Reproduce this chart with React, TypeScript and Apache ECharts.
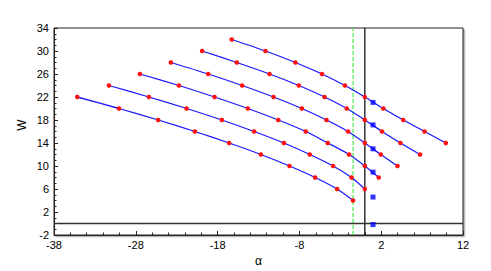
import React, { useEffect, useRef } from "react";
import * as echarts from "echarts";

const wL1 = [22, 20, 18, 16, 14, 12, 10, 8, 6, 4];
const aL1 = [-35.16, -30.06, -25.26, -20.78, -16.59, -12.71, -9.21, -6.08, -3.39, -1.44];
const wL2 = [24, 22, 20, 18, 16, 14, 12, 10, 8, 6];
const aL2 = [-31.28, -26.4, -21.79, -17.48, -13.53, -9.9, -6.73, -3.88, -1.63, 0.0];
const wL3 = [26, 24, 22, 20, 18, 16, 14, 12, 10, 8];
const aL3 = [-27.5, -22.73, -18.37, -14.3, -10.58, -7.22, -4.53, -1.93, 0.0, 1.7];
const wL4 = [28, 26, 24, 22, 20, 18, 16, 14, 12, 10];
const aL4 = [-23.71, -19.15, -15.0, -11.16, -7.7, -4.69, -2.05, 0.0, 1.95, 3.99];
const wL5 = [30, 28, 26, 24, 22, 20, 18, 16, 14, 12];
const aL5 = [-19.89, -15.65, -11.65, -8.07, -4.93, -2.21, 0.0, 2.1, 4.35, 6.75];
const wL6 = [32, 30, 28, 26, 24, 22, 20, 18, 16, 14];
const aL6 = [-16.27, -12.15, -8.49, -5.24, -2.43, 0.0, 2.26, 4.7, 7.3, 9.9];

const aBlue = [1, 1, 1, 1, 1, 1];
const wBlue = [21.06, 17.15, 12.99, 8.93, 4.6, -0.18];

const alphaZero = 0;
const alphaGreen = -1.44;
const wZero = 0;

const xMin = -38;
const xMax = 12;
const yMin = -2;
const yMax = 34;

const curves = [
  [aL1, wL1],
  [aL2, wL2],
  [aL3, wL3],
  [aL4, wL4],
  [aL5, wL5],
  [aL6, wL6],
];

const FONT = "Liberation Sans";

export default function App() {
  const ref = useRef<HTMLDivElement>(null);
  useEffect(() => {
    if (!ref.current) return;
    const chart = echarts.init(ref.current, null, { renderer: "svg" });
    const lineSeries = curves.map(([a, w], i) => ({
      type: "line",
      name: "c" + i,
      data: a.map((v, j) => [v, w[j]]),
      smooth: 0.25,
      symbol: "circle",
      symbolSize: 4.6,
      showSymbol: true,
      lineStyle: { color: "#1a1aff", width: 1.3 },
      itemStyle: { color: "#ff1010", borderWidth: 0 },
      z: 3,
    }));
    chart.setOption({
      animation: false,
      backgroundColor: "#ffffff",
      grid: {
        left: 54,
        top: 28,
        width: 409,
        height: 207,
        containLabel: false,
        outerBoundsMode: "none",
        show: true,
        borderColor: "#2a2222",
        borderWidth: 1,
        backgroundColor: "#ffffff",
        shadowColor: "rgba(0,0,0,0.35)",
        shadowOffsetX: 1.5,
        shadowOffsetY: 1.5,
        shadowBlur: 0,
      },
      graphic: [
        {
          type: "text",
          x: 22,
          y: 125,
          rotation: Math.PI / 2,
          style: {
            text: "W",
            fontFamily: FONT,
            fontSize: 12,
            fill: "#000",
            textAlign: "center",
            textVerticalAlign: "middle",
          },
        },
      ],
      xAxis: {
        type: "value",
        min: xMin,
        max: xMax,
        interval: 10,
        name: "α",
        nameLocation: "middle",
        nameGap: 17,
        nameTextStyle: { fontFamily: FONT, fontSize: 12, color: "#000" },
        axisLine: { show: true, onZero: false, lineStyle: { color: "#2a2222", width: 1 } },
        axisTick: { show: true, inside: true, length: 4, lineStyle: { color: "#2a2222" } },
        minorTick: { show: true, splitNumber: 5, length: 2.5, lineStyle: { color: "#2a2222" } },
        splitLine: { show: false },
        axisLabel: { fontFamily: FONT, fontSize: 11, color: "#000", margin: 4, showMinLabel: true, showMaxLabel: true },
      },
      yAxis: {
        type: "value",
        min: yMin,
        max: yMax,
        interval: 4,
        axisLine: { show: true, onZero: false, lineStyle: { color: "#2a2222", width: 1 } },
        axisTick: { show: true, inside: true, length: 4, lineStyle: { color: "#2a2222" } },
        minorTick: { show: true, splitNumber: 4, length: 2.5, lineStyle: { color: "#2a2222" } },
        splitLine: { show: false },
        axisLabel: { fontFamily: FONT, fontSize: 11, color: "#000", margin: 5, showMinLabel: true, showMaxLabel: true },
      },
      series: [
        {
          type: "line",
          data: [[alphaGreen, yMin], [alphaGreen, yMax]],
          symbol: "none",
          lineStyle: { color: "#44ee44", width: 1.2, type: [4, 2] },
          z: 2,
        },
        {
          type: "line",
          data: [[alphaZero, yMin], [alphaZero, yMax]],
          symbol: "none",
          lineStyle: { color: "#000000", width: 1.2 },
          z: 2,
        },
        {
          type: "line",
          data: [[xMin, wZero], [xMax, wZero]],
          symbol: "none",
          lineStyle: { color: "#333333", width: 1.3 },
          z: 2,
        },
        ...lineSeries,
        {
          type: "scatter",
          data: aBlue.map((v, j) => [v, wBlue[j]]),
          symbol: "rect",
          symbolSize: 5,
          itemStyle: { color: "#0000ff" },
          z: 4,
        },
      ],
    });
    return () => chart.dispose();
  }, []);
  return (
    <div
      ref={ref}
      style={{ position: "absolute", left: 0, top: 0, width: 491, height: 271, background: "#fff" }}
    />
  );
}
